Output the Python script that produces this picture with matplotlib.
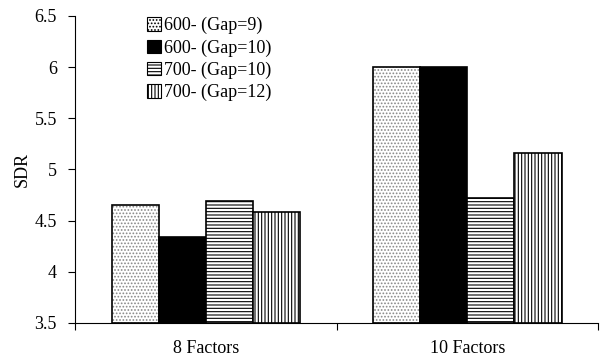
import matplotlib.pyplot as plt
import numpy as np
from matplotlib.patches import Patch

categories = ["8 Factors", "10 Factors"]
series = ["600- (Gap=9)", "600- (Gap=10)", "700- (Gap=10)", "700- (Gap=12)"]
gap9_600 = [4.65, 6.0]
gap10_600 = [4.34, 6.0]
gap10_700 = [4.69, 4.72]
gap12_700 = [4.58, 5.16]

values = [gap9_600, gap10_600, gap10_700, gap12_700]
faces = ['white', 'black', 'white', 'white']
hatches = ['.....', None, '-----', '|||||']
hatch_cols = ['#888888', 'black', 'black', 'black']

plt.rcParams['font.family'] = ['Liberation Serif', 'DejaVu Serif']
plt.rcParams['hatch.linewidth'] = 0.8

fig = plt.figure(figsize=(6, 3.6), dpi=100)
ax = fig.add_axes([0.125, 0.103, 0.872, 0.853])

x = np.arange(len(categories))
w = 0.18
for i, vals in enumerate(values):
	pos = x + (i - 1.5) * w
	bottoms = np.full(len(vals), 3.5)
	heights = np.array(vals) - 3.5
	ax.bar(pos, heights, w, bottom=bottoms, color=faces[i], edgecolor=hatch_cols[i],
		hatch=hatches[i], linewidth=0)
	ax.bar(pos, heights, w, bottom=bottoms, fill=False, edgecolor='black', linewidth=1.2)

ax.set_ylim(3.5, 6.5)
ax.set_xlim(-0.5, 1.5)
ax.set_yticks([3.5, 4, 4.5, 5, 5.5, 6, 6.5])
ax.set_yticklabels(['3.5', '4', '4.5', '5', '5.5', '6', '6.5'])
ax.set_xticks([-0.5, 0.5, 1.5])
ax.set_xticklabels(['', '', ''])
ax.set_xticks(x, minor=True)
ax.set_xticklabels(categories, minor=True)
ax.tick_params(axis='x', which='minor', length=0, pad=12, labelsize=13)
ax.tick_params(axis='x', which='major', length=5, direction='out')
ax.tick_params(axis='y', length=5, direction='out', labelsize=13, pad=8)
for s in ['top', 'right']:
	ax.spines[s].set_visible(False)
ax.set_ylabel("SDR", fontsize=13, labelpad=3)

handles = [Patch(facecolor=faces[i], edgecolor='black', hatch=hatches[i], linewidth=0.8) for i in range(4)]
fig.legend(handles, series, loc='upper left', bbox_to_anchor=(147 / 600, 1 - 17 / 360),
	bbox_transform=fig.transFigure, frameon=False, borderpad=0, borderaxespad=0,
	fontsize=13, handlelength=0.75, handleheight=0.75, handletextpad=0.2, labelspacing=0.28)

fig.savefig('out.png')
